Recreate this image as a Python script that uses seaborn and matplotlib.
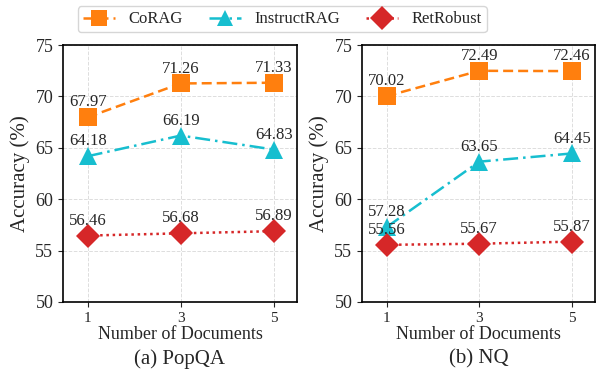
import matplotlib
matplotlib.use("Agg")
import matplotlib.pyplot as plt
import seaborn as sns
import pandas as pd
from matplotlib.lines import Line2D

docs = [1, 3, 5]
methods = ["CoRAG", "InstructRAG", "RetRobust"]
popqa_corag = [67.97, 71.26, 71.33]
popqa_instruct = [64.18, 66.19, 64.83]
popqa_retrobust = [56.46, 56.68, 56.89]
nq_corag = [70.02, 72.49, 72.46]
nq_instruct = [57.28, 63.65, 64.45]
nq_retrobust = [55.56, 55.67, 55.87]
yticks = [50, 55, 60, 65, 70, 75]
subtitles = ["(a) PopQA", "(b) NQ"]

sns.set_style("ticks")
plt.rcParams['font.family'] = ['Liberation Serif', 'DejaVu Serif']
plt.rcParams['mathtext.fontset'] = 'stix'

colors = {"CoRAG": "#ff7f0e", "InstructRAG": "#17becf", "RetRobust": "#d62728"}
markers = {"CoRAG": "s", "InstructRAG": "^", "RetRobust": "D"}
dashes = {"CoRAG": (4, 2), "InstructRAG": (6, 2, 1, 2), "RetRobust": (1, 1.5)}

def make_df(a, b, c):
    rows = []
    for m, vals in zip(methods, [a, b, c]):
        for d, v in zip(docs, vals):
            rows.append({"docs": d, "acc": v, "method": m})
    return pd.DataFrame(rows)

dfs = [make_df(popqa_corag, popqa_instruct, popqa_retrobust),
       make_df(nq_corag, nq_instruct, nq_retrobust)]

fig = plt.figure(figsize=(5.98, 3.81), dpi=100)
ax_pos = [[63/598, 79/381, 234/598, 257/381], [362/598, 79/381, 233/598, 257/381]]
axes = [fig.add_axes(p) for p in ax_pos]

for ax, df, sub in zip(axes, dfs, subtitles):
    sns.lineplot(data=df, x="docs", y="acc", hue="method", style="method",
                 palette=colors, markers=markers, dashes=dashes, ax=ax,
                 markersize=12.5, linewidth=1.8, markeredgewidth=0, legend=False)
    for _, r in df.iterrows():
        ax.annotate(f"{r['acc']:.2f}", (r['docs'], r['acc']), xytext=(0, 5),
                    textcoords="offset points", ha="center", va="bottom", fontsize=12)
    ax.set_xlim(0.47, 5.5)
    ax.set_ylim(50, 75)
    ax.set_xticks(docs)
    ax.set_yticks(yticks)
    ax.tick_params(axis='y', labelsize=13)
    ax.tick_params(axis='x', labelsize=11)
    ax.grid(True, linestyle='--', color='#dddddd', linewidth=0.7)
    ax.set_axisbelow(True)
    for s in ax.spines.values():
        s.set_visible(True)
        s.set_linewidth(1.2)
        s.set_color('black')
    ax.set_xlabel("Number of Documents", fontsize=13, labelpad=1)
    ax.set_ylabel("Accuracy (%)", fontsize=15, labelpad=4)
    ax.text(0.5, -0.185, sub, transform=ax.transAxes, ha="center", va="top", fontsize=15)

handles = [Line2D([], [], color=colors[m], marker=markers[m], dashes=dashes[m],
                  markersize=12, linewidth=1.8, markeredgewidth=0) for m in methods]
fig.legend(handles, methods, loc="upper center", bbox_to_anchor=(0.472, 1.005), ncol=3,
           fontsize=12, frameon=True, handlelength=1.9, columnspacing=1.6,
           borderpad=0.3, handletextpad=0.8)

fig.savefig("out.png", dpi=100)
